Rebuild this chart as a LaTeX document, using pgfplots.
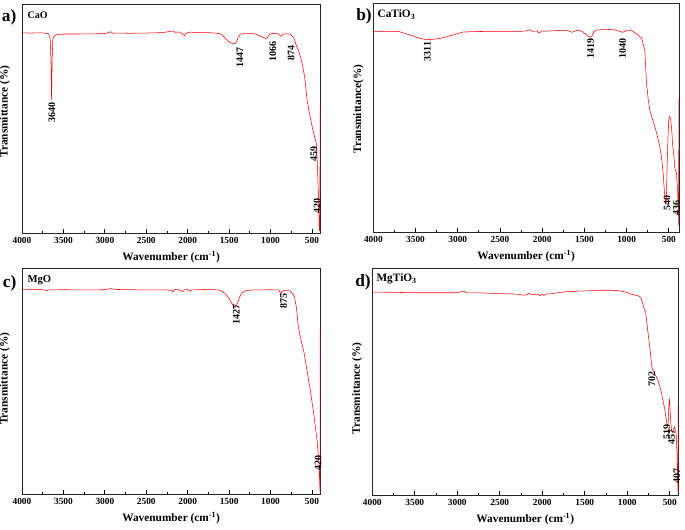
\documentclass[border=0pt]{standalone}
\usepackage{pgfplots}
\pgfplotsset{compat=1.18}
\usepackage{fontspec}
\setmainfont{Liberation Serif}
\newcommand\annfont{\bfseries\fontsize{7.5}{8}\selectfont}
\pgfplotsset{
  ftir/.style={
    scale only axis,
    clip mode=individual,
    x dir=reverse,
    xmax=4000, xmin=400,
    ymin=0, ymax=100,
    xtick={500,1000,1500,2000,2500,3000,3500,4000},
    minor xtick={750,1250,1750,2250,2750,3250,3750},
    tick align=inside,
    xtick pos=left,
    ytick=\empty,
    major tick length=3pt, minor tick length=1.8pt,
    axis line style={line width=0.6pt, black!85},
    every tick/.style={black, line width=0.6pt},
    /pgf/number format/assume math mode=true,
    /pgf/number format/1000 sep={},
    xticklabel style={font=\bfseries\fontsize{7}{8}\selectfont},
    xlabel={Wavenumber (cm\textsuperscript{-1})},
    xlabel style={font=\bfseries\fontsize{8.5}{10}\selectfont, at={(axis description cs:0.5,0)}, anchor=center, yshift=-18pt},
    ylabel style={font=\bfseries\fontsize{8.5}{10}\selectfont, anchor=south},
    cycle list={{red, line width=1.1pt, no marks}},
    anchor=south west,
  },
}
\begin{document}
\begin{tikzpicture}
\useasboundingbox (0,0) rectangle (513.75pt,397.5pt);
% ---------------- a) CaO
\begin{axis}[ftir, at={(16.5pt,222.75pt)}, width=223.7pt, height=171.75pt,
  ylabel={Transmittance (\%)}, ylabel style={at={(axis description cs:-0.024,0.53)}}]
\addplot coordinates {(4000,87.4) (3900,87.3) (3800,87.4) (3720,87.3) (3680,87.0) (3660,85) (3650,75) (3643,58) (3636,76) (3628,84.5) (3610,86) (3580,86.6) (3500,86.9) (3300,86.9) (3100,87.0) (3000,87.0) (2960,87.5) (2930,87.9) (2900,87.2) (2850,87.3) (2700,87.2) (2500,87.3) (2300,87.5) (2220,88.0) (2180,88.2) (2150,87.6) (2100,87.8) (2060,86.8) (2040,86.2) (2020,87.2) (1990,87.6) (1960,87.7) (1900,87.5) (1800,87.5) (1700,87.4) (1620,87.1) (1580,86.4) (1540,84.8) (1500,83.4) (1460,82.8) (1430,82.6) (1410,83.5) (1390,85.5) (1360,86.9) (1300,87.1) (1200,87.0) (1150,86.5) (1100,85.6) (1060,84.9) (1040,85.3) (1010,86.8) (980,87.1) (940,87.2) (900,86.9) (880,86.1) (865,85.9) (850,86.8) (820,87.0) (780,86.9) (750,86.5) (719,85.2) (690,82) (660,79.5) (618,74) (590,68.5) (558,58) (540,54) (526,51.5) (497,46.3) (469,41.9) (455,40.5) (448,39) (438,33) (428,23) (420,14) (414,5.4) (410,1) (404,1) (402,56)};
\node[rotate=90, font=\annfont] at (axis cs:3641,52.5) {3640};
\node[rotate=90, font=\annfont] at (axis cs:1372,76.6) {1447};
\node[rotate=90, font=\annfont] at (axis cs:973,79.1) {1066};
\node[rotate=90, font=\annfont] at (axis cs:751,78.8) {874};
\node[rotate=90, font=\annfont] at (axis cs:477,34.3) {459};
\node[rotate=90, font=\annfont] at (axis cs:437,12) {420};
\node[anchor=north west, font=\bfseries\fontsize{7.5}{8}\selectfont, inner sep=0pt] at (axis description cs:0,1) [xshift=4pt, yshift=-6pt] {CaO};
\node[anchor=north east, font=\bfseries\fontsize{13}{14}\selectfont, inner sep=0pt] at (axis description cs:0,1) [xshift=-4pt, yshift=-4pt] {a)};
\end{axis}
% ---------------- b) CaTiO3
\begin{axis}[ftir, xmin=380, at={(280pt,223.5pt)}, width=229.25pt, height=171.75pt,
  ylabel={Transmittance(\%)}, ylabel style={at={(axis description cs:-0.017,0.537)}}]
\addplot coordinates {(4000,87.6) (3800,87.6) (3700,87.6) (3650,87.0) (3550,85.8) (3450,84.6) (3380,84.0) (3300,84.1) (3200,84.6) (3100,85.6) (3000,86.6) (2930,87.4) (2900,87.3) (2850,87.5) (2600,87.6) (2300,87.6) (2200,87.7) (2160,88.1) (2140,88.4) (2120,87.6) (2060,87.8) (2040,86.9) (2020,87.3) (2000,87.8) (1950,87.7) (1800,88.0) (1700,88.0) (1650,87.2) (1600,87.9) (1560,88.1) (1520,87.4) (1470,85.8) (1430,85.1) (1410,85.6) (1390,87.5) (1350,88.2) (1250,88.5) (1150,88.3) (1100,87.8) (1050,87.2) (1020,87.6) (990,88.2) (950,88.0) (900,87.0) (850,85.5) (824,84.7) (800,81.5) (785,79.6) (765,65) (745,58) (726,53.4) (700,50) (667,46.1) (637,42) (607,37.4) (585,32) (568,25.8) (550,16) (538,12.4) (530,14) (520,30) (510,42) (500,49.8) (490,50.5) (478,49) (465,44) (455,38) (440,33) (430,28) (420,26.5) (410,25.8) (400,20) (395,17) (387,9.8) (384,3) (382,58)};
\node[rotate=90, font=\annfont] at (axis cs:3361,78.9) {3311};
\node[rotate=90, font=\annfont] at (axis cs:1428,80.3) {1419};
\node[rotate=90, font=\annfont] at (axis cs:1049,80.3) {1040};
\node[rotate=90, font=\annfont] at (axis cs:521,12.7) {540};
\node[rotate=90, font=\annfont] at (axis cs:410,10.5) {436};
\node[anchor=north west, font=\bfseries\fontsize{8.5}{9}\selectfont, inner sep=0pt] at (axis description cs:0,1) [xshift=3pt, yshift=-5pt] {CaTiO\textsubscript{3}};
\node[anchor=north east, font=\bfseries\fontsize{13}{14}\selectfont, inner sep=0pt] at (axis description cs:0,1) [xshift=-1pt, yshift=-4pt] {b)};
\end{axis}
% ---------------- c) MgO
\begin{axis}[ftir, at={(16.5pt,27pt)}, width=223.7pt, height=169.3pt,
  ylabel={Transmittance (\%)}, ylabel style={at={(axis description cs:-0.024,0.51)}}]
\addplot coordinates {(4000,90.7) (3800,90.6) (3720,90.4) (3700,90.0) (3680,90.4) (3500,90.5) (3200,90.4) (3000,90.5) (2930,91.0) (2900,90.8) (2850,90.6) (2500,90.4) (2250,90.4) (2190,90.0) (2180,89.4) (2160,90.7) (2120,90.6) (2060,89.7) (2040,90.4) (2000,90.6) (1970,89.8) (1950,90.4) (1800,90.6) (1700,90.6) (1620,90.3) (1580,89.7) (1540,88.5) (1500,86.5) (1460,84) (1430,82.6) (1410,83.5) (1380,86.5) (1350,89) (1300,90.1) (1200,90.4) (1000,90.5) (900,90.4) (885,89.3) (875,88.4) (865,89.6) (840,90.1) (800,90.3) (760,89.8) (739,89) (711,87.5) (687,82.3) (667,74.9) (639,69) (598,63.1) (558,54.3) (518,45.4) (477,35.1) (437,23.3) (417,14) (410,8) (405,3) (402,0.5) (401,73)};
\node[rotate=90, font=\annfont] at (axis cs:1412,79.4) {1427};
\node[rotate=90, font=\annfont] at (axis cs:844,85.3) {875};
\node[rotate=90, font=\annfont] at (axis cs:425,13.7) {420};
\node[anchor=north west, font=\bfseries\fontsize{8}{9}\selectfont, inner sep=0pt] at (axis description cs:0,1) [xshift=4pt, yshift=-5pt] {MgO};
\node[anchor=north east, font=\bfseries\fontsize{13}{14}\selectfont, inner sep=0pt] at (axis description cs:0,1) [xshift=-4pt, yshift=-5pt] {c)};
\end{axis}
% ---------------- d) MgTiO3
\begin{axis}[ftir, at={(279.2pt,26.25pt)}, width=229.5pt, height=170.25pt,
  ylabel={Transmittance (\%)}, ylabel style={at={(axis description cs:-0.017,0.47)}}]
\addplot coordinates {(4000,89.4) (3800,89.3) (3500,89.1) (3200,89.1) (3000,89.1) (2940,89.7) (2920,89.8) (2890,89.0) (2700,89.0) (2500,88.7) (2300,88.5) (2220,88.0) (2180,88.3) (2160,88.9) (2120,88.2) (2050,88.5) (2030,87.8) (2000,88.4) (1980,87.9) (1950,88.6) (1900,88.6) (1800,89.2) (1700,89.6) (1500,89.9) (1300,90.2) (1200,90.2) (1100,90.0) (1000,89.2) (950,88.4) (900,88.0) (860,87.6) (835,86.5) (800,82) (784,80.6) (757,71.8) (729,63) (710,56.3) (679,53.5) (639,50.6) (600,45.5) (561,38.1) (528,30.1) (520,31) (512,38) (504,42.5) (497,38) (488,32) (478,28) (465,27.5) (455,29) (445,30) (435,28.5) (425,27) (415,18) (408,8) (404,3) (402,1) (401,40)};
\node[rotate=90, font=\annfont] at (axis cs:710,51) {702};
\node[rotate=90, font=\annfont] at (axis cs:535,27.9) {519};
\node[rotate=90, font=\annfont] at (axis cs:478,25.4) {457};
\node[rotate=90, font=\annfont] at (axis cs:418,8.5) {407};
\node[anchor=north west, font=\bfseries\fontsize{8.5}{9}\selectfont, inner sep=0pt] at (axis description cs:0,1) [xshift=3pt, yshift=-4pt] {MgTiO\textsubscript{3}};
\node[anchor=north east, font=\bfseries\fontsize{13}{14}\selectfont, inner sep=0pt] at (axis description cs:0,1) [xshift=-1pt, yshift=-5pt] {d)};
\end{axis}
\end{tikzpicture}
\end{document}
